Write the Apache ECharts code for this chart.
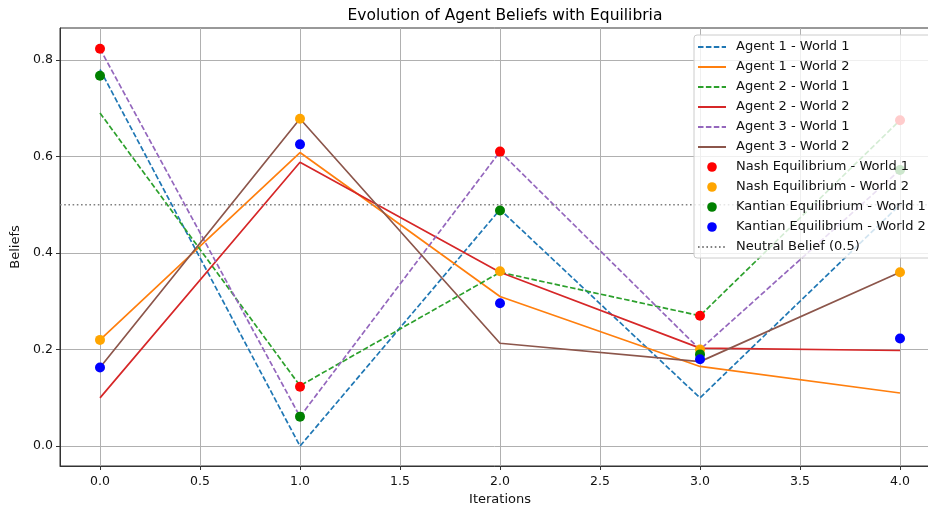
<!DOCTYPE html>
<html>
<head>
<meta charset="utf-8">
<script src="https://cdn.jsdelivr.net/npm/echarts@6/dist/echarts.min.js"></script>
<style>
html,body{margin:0;padding:0;background:#fff;}
#chart{width:928px;height:508px;}
</style>
</head>
<body>
<div id="chart"></div>
<script>
const iterations = [0, 1, 2, 3, 4];
const agent1World1 = [0.78, 0.00, 0.49, 0.10, 0.50];
const agent1World2 = [0.22, 0.608, 0.31, 0.165, 0.11];
const agent2World1 = [0.69, 0.125, 0.36, 0.27, 0.675];
const agent2World2 = [0.10, 0.588, 0.36, 0.203, 0.198];
const agent3World1 = [0.823, 0.061, 0.61, 0.20, 0.572];
const agent3World2 = [0.163, 0.678, 0.213, 0.175, 0.36];
const nashWorld1 = [0.823, 0.123, 0.61, 0.27, 0.675];
const nashWorld2 = [0.22, 0.678, 0.362, 0.20, 0.36];
const kantianWorld1 = [0.767, 0.061, 0.488, 0.19, 0.572];
const kantianWorld2 = [0.163, 0.625, 0.296, 0.18, 0.223];
const neutralBelief = 0.5;
const xTicks = [0, 0.5, 1, 1.5, 2, 2.5, 3, 3.5, 4];
const yTicks = [0, 0.2, 0.4, 0.6, 0.8];
const xRange = [-0.2, 4.2];
const yRange = [-0.0412, 0.866];

const FONT = 'DejaVu Sans';
const TEXT = '#111';
const pairs = arr => arr.map((v, i) => [iterations[i], v]);

function lineSeries(name, values, color, dashed) {
  return {
    name, type: 'line', data: pairs(values), symbol: 'none', showSymbol: false,
    lineStyle: { color, width: 1.7, type: dashed ? [5.5, 2.4] : 'solid' },
    itemStyle: { color }, z: 2, silent: true, _dash: dashed
  };
}
function scatterSeries(name, values, color) {
  return {
    name, type: 'scatter', data: pairs(values), symbol: 'circle', symbolSize: 10,
    itemStyle: { color, opacity: 1 }, z: 3, silent: true
  };
}
function svgIcon(inner) {
  const svg = '<svg xmlns="http://www.w3.org/2000/svg" width="28" height="14">' + inner + '</svg>';
  return 'image://data:image/svg+xml;charset=utf-8,' + encodeURIComponent(svg);
}
function dotIcon(color) {
  return svgIcon('<circle cx="14" cy="7" r="4.8" fill="' + color + '"/>');
}
function lineIcon(color, dash) {
  return svgIcon('<line x1="0" y1="7" x2="28" y2="7" stroke="' + color + '" stroke-width="2"' +
    (dash ? ' stroke-dasharray="' + dash + '"' : '') + '/>');
}

const series = [
  lineSeries('Agent 1 - World 1', agent1World1, '#1f77b4', true),
  lineSeries('Agent 1 - World 2', agent1World2, '#ff7f0e', false),
  lineSeries('Agent 2 - World 1', agent2World1, '#2ca02c', true),
  lineSeries('Agent 2 - World 2', agent2World2, '#d62728', false),
  lineSeries('Agent 3 - World 1', agent3World1, '#9467bd', true),
  lineSeries('Agent 3 - World 2', agent3World2, '#8c564b', false),
  scatterSeries('Nash Equilibrium - World 1', nashWorld1, '#ff0000'),
  scatterSeries('Nash Equilibrium - World 2', nashWorld2, '#ffa500'),
  scatterSeries('Kantian Equilibrium - World 1', kantianWorld1, '#008000'),
  scatterSeries('Kantian Equilibrium - World 2', kantianWorld2, '#0000ff'),
  {
    name: 'Neutral Belief (0.5)', type: 'line', symbol: 'none', showSymbol: false,
    data: [[xRange[0], neutralBelief], [xRange[1], neutralBelief]],
    lineStyle: { color: '#808080', width: 1.6, type: [1.6, 2.6] },
    itemStyle: { color: '#808080' }, z: 4, silent: true, _dot: true
  }
];

const legendData = series.map(s => {
  let icon;
  if (s.type === 'scatter') icon = dotIcon(s.itemStyle.color);
  else if (s._dot) icon = lineIcon(s.lineStyle.color, '1.6,2.6');
  else icon = lineIcon(s.lineStyle.color, s._dash ? '5.5,2.4' : null);
  return { name: s.name, icon };
});
series.forEach(s => { delete s._dash; delete s._dot; });

const chart = echarts.init(document.getElementById('chart'), null, { renderer: 'canvas' });
chart.setOption({
  animation: false,
  backgroundColor: '#ffffff',
  title: {
    text: 'Evolution of Agent Beliefs with Equilibria',
    left: 500, top: 3, textAlign: 'center',
    textStyle: { fontFamily: FONT, fontSize: 15.5, fontWeight: 'normal', color: '#000' }
  },
  grid: {
    left: 60, top: 28, width: 880, height: 438,
    outerBoundsMode: 'none', containLabel: false,
    show: true, borderColor: '#333', borderWidth: 1, backgroundColor: 'transparent'
  },
  legend: {
    orient: 'vertical', left: 694, top: 35,
    padding: [5, 6, 4, 4], itemGap: 6, itemWidth: 28, itemHeight: 14,
    backgroundColor: 'rgba(255,255,255,0.8)', borderColor: '#cccccc', borderWidth: 1, borderRadius: 3,
    textStyle: { fontFamily: FONT, fontSize: 13, color: TEXT, padding: [0, 0, 0, 5] },
    data: legendData, selectedMode: false, z: 10
  },
  xAxis: {
    type: 'value', min: xRange[0], max: xRange[1],
    name: 'Iterations', nameLocation: 'middle', nameGap: 27,
    nameTextStyle: { fontFamily: FONT, fontSize: 13, color: TEXT },
    axisLine: { show: true, onZero: false, lineStyle: { color: '#333', width: 1 } },
    axisTick: { show: true, length: 4, customValues: xTicks, lineStyle: { color: '#333' } },
    axisLabel: { customValues: xTicks, fontFamily: FONT, fontSize: 12.5, color: TEXT, margin: 9,
      formatter: v => Number(v).toFixed(1) },
    splitLine: { show: true, lineStyle: { color: '#b0b0b0', width: 1 } }
  },
  yAxis: {
    type: 'value', min: yRange[0], max: yRange[1],
    name: 'Beliefs', nameLocation: 'middle', nameGap: 32, nameRotate: 90,
    nameTextStyle: { fontFamily: FONT, fontSize: 13, color: TEXT },
    axisLine: { show: true, onZero: false, lineStyle: { color: '#333', width: 1 } },
    axisTick: { show: true, length: 4, customValues: yTicks, lineStyle: { color: '#333' } },
    axisLabel: { customValues: yTicks, fontFamily: FONT, fontSize: 12.5, color: TEXT, margin: 7,
      formatter: v => Number(v).toFixed(1) },
    splitLine: { show: true, lineStyle: { color: '#b0b0b0', width: 1 } }
  },
  series
});
</script>
</body>
</html>
